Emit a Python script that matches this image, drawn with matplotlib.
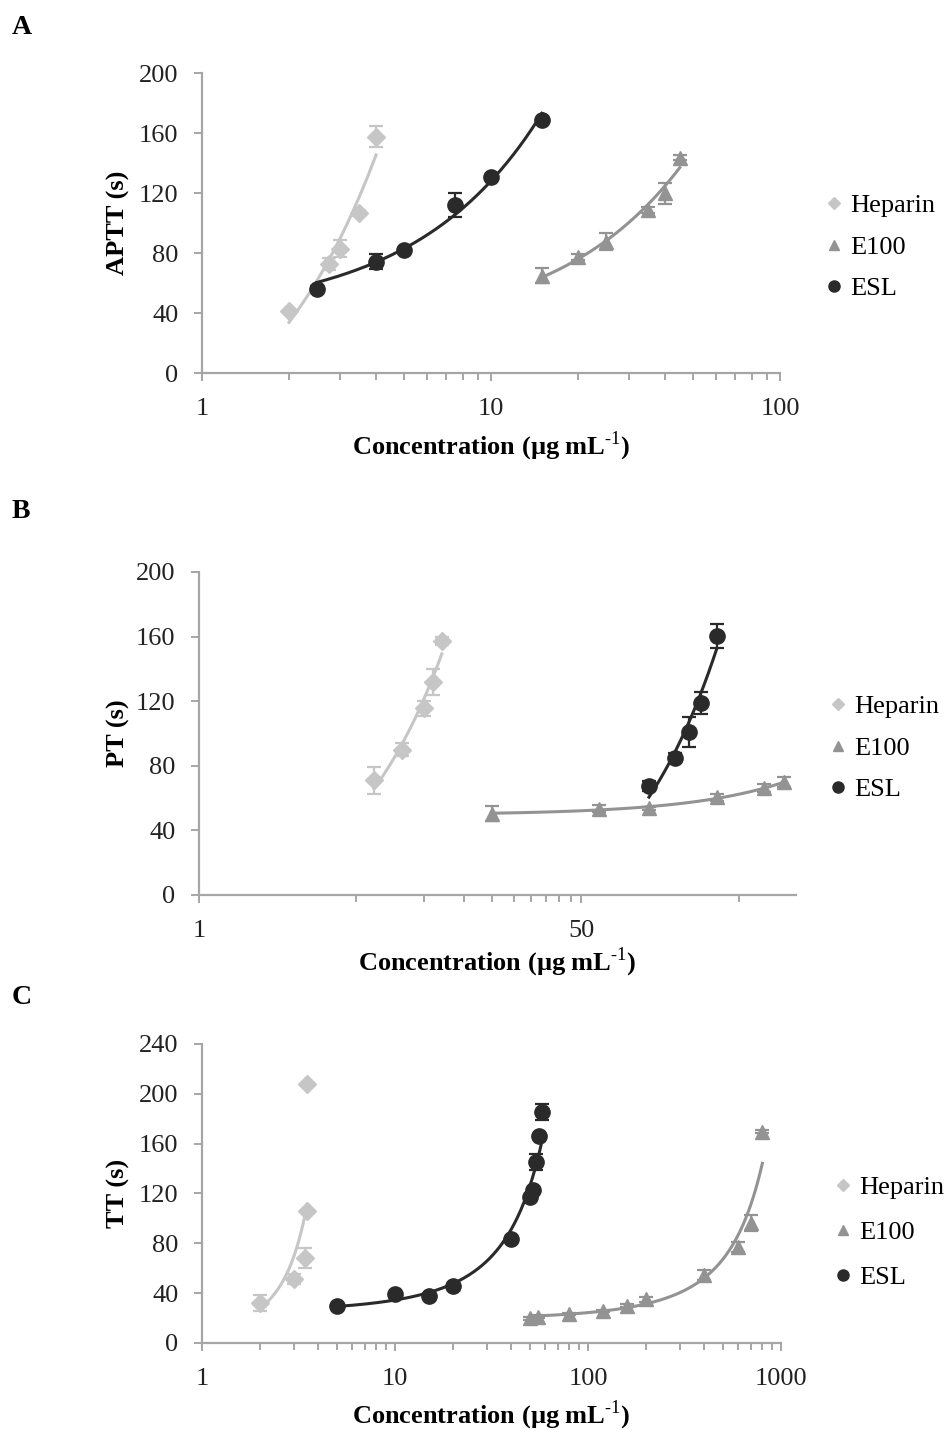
import numpy as np
import matplotlib
matplotlib.use("Agg")
import matplotlib.pyplot as plt
from matplotlib.ticker import FixedLocator, FixedFormatter, NullFormatter, LogLocator
from matplotlib.lines import Line2D

plt.rcParams['font.family'] = ['Liberation Serif', 'DejaVu Serif']
plt.rcParams['mathtext.fontset'] = 'custom'
plt.rcParams['mathtext.rm'] = 'Liberation Serif'
plt.rcParams['mathtext.bf'] = 'Liberation Serif:bold'

# ---- panel A: APTT ----
a_hep_x = [2.0, 2.75, 3.0, 3.5, 4.0]
a_hep_y = [41.5, 72.5, 83, 107, 157.5]
a_hep_e = [0, 4, 5.6, 2, 6.9]
a_e100_x = [15, 20, 25, 35, 40, 45]
a_e100_y = [65, 77.5, 87.5, 108.7, 119.8, 143.6]
a_e100_e = [5, 2, 5.8, 2, 6.9, 1.5]
a_esl_x = [2.5, 4, 5, 7.5, 10, 15]
a_esl_y = [56, 74.2, 81.8, 112, 130.9, 169]
a_esl_e = [2, 5, 1, 7.8, 1, 1]

# ---- panel B: PT ----
b_hep_x = [6, 8, 10, 11, 12]
b_hep_y = [70.9, 89.9, 115.6, 132, 157.3]
b_hep_e = [8.2, 4.1, 4.6, 7.9, 2.7]
b_e100_x = [20, 60, 100, 200, 325, 400]
b_e100_y = [50.4, 53.5, 53.6, 60.4, 66.2, 69.8]
b_e100_e = [4.8, 2, 1, 2, 2.5, 3]
b_esl_x = [100, 130, 150, 170, 200]
b_esl_y = [67.3, 85.1, 101, 118.9, 160.3]
b_esl_e = [3, 3, 9.5, 6.9, 7.2]

# ---- panel C: TT ----
c_hep_x = [2, 3, 3.4, 3.5, 3.5]
c_hep_y = [31.9, 51.1, 68, 106.2, 207.6]
c_hep_e = [6.4, 4, 8, 0, 0]
c_e100_x = [50, 55, 80, 120, 160, 200, 400, 600, 700, 800]
c_e100_y = [19.8, 21.1, 23.3, 25.7, 30, 35, 54.6, 77.3, 96.6, 169.6]
c_e100_e = [1, 1, 1, 1, 1, 2, 4, 4, 6.4, 1]
c_esl_x = [5, 10, 15, 20, 40, 50, 52, 54, 56, 58]
c_esl_y = [29.7, 39.1, 38, 46, 83.7, 117.4, 122.8, 145, 166.1, 185.6]
c_esl_e = [1, 2, 1, 1, 1, 1, 2, 6.4, 1, 6.4]

names = ["Heparin", "E100", "ESL"]
colors = ["#c6c6c6", "#939393", "#2a2a2a"]
markers = ["D", "^", "o"]
msizes = [9, 10, 11]

spine_c = "#a6a6a6"
fs = 19


def trend(ax, x, y, color, kind):
    x = np.asarray(x, float)
    y = np.asarray(y, float)
    xs = np.linspace(x.min(), x.max(), 200)
    if kind == "lin":
        m, c = np.polyfit(x, y, 1)
        ys = m * xs + c
    else:
        b, a = np.polyfit(x, np.log(y), 1)
        ys = np.exp(a + b * xs)
    ax.plot(xs, ys, color=color, lw=2.2, zorder=2)


def series(ax, x, y, e, i, kind):
    trend(ax, x, y, colors[i], kind)
    ax.errorbar(x, y, yerr=e, fmt=markers[i], color=colors[i], ms=msizes[i],
                mec=colors[i], ecolor=colors[i], elinewidth=1.6, capsize=5,
                capthick=1.6, zorder=3)


def style(ax, ylab, yticks, ylim, lab_x, xlab_y):
    for s in ["top", "right"]:
        ax.spines[s].set_visible(False)
    for s in ["left", "bottom"]:
        ax.spines[s].set_color(spine_c)
        ax.spines[s].set_linewidth(1.6)
    ax.set_ylim(ylim)
    ax.set_yticks(yticks)
    ax.tick_params(axis="y", which="major", length=6, width=1.4, color=spine_c,
                   labelsize=fs, pad=11, labelcolor="#222222")
    ax.tick_params(axis="x", which="major", length=6, width=1.4, color=spine_c,
                   labelsize=fs, pad=12, labelcolor="#222222")
    ax.tick_params(axis="x", which="minor", length=5, width=1.4, color=spine_c)
    ax.set_ylabel(ylab, fontsize=fs, fontweight="bold")
    ax.yaxis.set_label_coords(lab_x, 0.5)
    ax.set_xlabel(r"Concentration (µg mL$^{\text{-1}}$)", fontsize=fs,
                  fontweight="bold")
    ax.xaxis.set_label_coords(0.5, xlab_y)


def legend(ax, x0, y0, spacing):
    handles = [Line2D([], [], ls="none", marker=markers[i], color=colors[i],
                      ms=[6, 7, 8][i]) for i in range(3)]
    ax.legend(handles, names, loc="center left", bbox_to_anchor=(x0, y0),
              frameon=False, fontsize=fs, handlelength=0.8, handletextpad=0.2,
              labelspacing=spacing, borderpad=0.4)


fig = plt.figure(figsize=(9.48, 14.3), dpi=100)

# panel A
axA = fig.add_axes([0.2131, 0.73916, 0.6097, 0.20979])
axA.set_xscale("log")
axA.set_xlim(1, 100)
series(axA, a_hep_x, a_hep_y, a_hep_e, 0, "lin")
series(axA, a_e100_x, a_e100_y, a_e100_e, 1, "lin")
series(axA, a_esl_x, a_esl_y, a_esl_e, 2, "lin")
axA.xaxis.set_major_locator(FixedLocator([1, 10, 100]))
axA.xaxis.set_major_formatter(FixedFormatter(["1", "10", "100"]))
axA.xaxis.set_minor_locator(LogLocator(base=10, subs=np.arange(2, 10)))
axA.xaxis.set_minor_formatter(NullFormatter())
style(axA, "APTT (s)", range(0, 201, 40), (0, 200), -0.125, -0.19)
legend(axA, 1.034, 0.42, 0.68)

# panel B
axB = fig.add_axes([0.2099, 0.37413, 0.6297, 0.22587])
axB.set_xscale("log", base=50)
axB.set_xlim(1, 450)
series(axB, b_hep_x, b_hep_y, b_hep_e, 0, "lin")
series(axB, b_e100_x, b_e100_y, b_e100_e, 1, "lin")
series(axB, b_esl_x, b_esl_y, b_esl_e, 2, "lin")
axB.xaxis.set_major_locator(FixedLocator([1, 50]))
axB.xaxis.set_major_formatter(FixedFormatter(["1", "50"]))
axB.xaxis.set_minor_locator(FixedLocator(list(range(5, 50, 5)) + [250]))
axB.xaxis.set_minor_formatter(NullFormatter())
style(axB, "PT (s)", range(0, 201, 40), (0, 200), -0.116, -0.155)
legend(axB, 1.013, 0.455, 0.68)

# panel C
axC = fig.add_axes([0.2131, 0.06084, 0.6108, 0.2091])
axC.set_xscale("log")
axC.set_xlim(1, 1000)
series(axC, c_hep_x, c_hep_y, c_hep_e, 0, "exp")
series(axC, c_e100_x, c_e100_y, c_e100_e, 1, "exp")
series(axC, c_esl_x, c_esl_y, c_esl_e, 2, "exp")
axC.xaxis.set_major_locator(FixedLocator([1, 10, 100, 1000]))
axC.xaxis.set_major_formatter(FixedFormatter(["1", "10", "100", "1000"]))
axC.xaxis.set_minor_locator(LogLocator(base=10, subs=np.arange(2, 10)))
axC.xaxis.set_minor_formatter(NullFormatter())
style(axC, "TT (s)", range(0, 241, 40), (0, 240), -0.124, -0.185)
legend(axC, 1.048, 0.37, 0.82)

# panel letters
for lab, ypx in [("A", 28), ("B", 512), ("C", 997)]:
    fig.text(12 / 948, 1 - ypx / 1430, lab, fontsize=20, fontweight="bold",
             va="center", ha="left")

fig.savefig("out.png", dpi=100)
